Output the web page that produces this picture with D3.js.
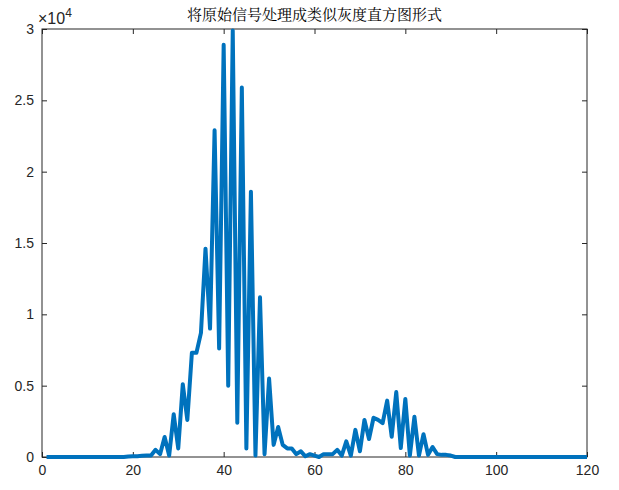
<!DOCTYPE html>
<html><head><meta charset="utf-8">
<script src="https://cdn.jsdelivr.net/npm/d3@7"></script>
<style>body{margin:0;background:#fff}</style></head>
<body><div id="chart"></div>
<script>
// histogram-like values, index 1..120
const values = [
  0,0,0,0,0,0,0,0,0,0, 0,0,0,0,0,0,0,0,30,50,
  60,80,100,100,500,200,1400,100,3000,600,
  5100,2600,7300,7300,8700,14600,9000,22900,7600,28900,
  5000,29900,2400,25900,600,18600,100,11200,200,5500,
  850,2100,850,600,600,200,400,50,200,100,
  0,200,200,200,500,100,1100,100,1900,400,
  2600,1260,2750,2600,2380,3950,1420,4550,630,4070,
  100,2820,100,1600,150,700,200,150,150,100,
  0,0,0,0,0,0,0,0,0,0, 0,0,0,0,0,0,0,0,0,0,
  0,0,0,0,0,0,0,0,0,0
];
const xTicks = [0,20,40,60,80,100,120];
const yTicks = [0,5000,10000,15000,20000,25000,30000];
const title = "将原始信号处理成类似灰度直方图形式";

const W = 619, H = 490, m = {l:42, r:32, t:29, b:33};
const svg = d3.select("#chart").append("svg").attr("width", W).attr("height", H)
  .style("font-family", "'Liberation Sans', Arial, sans-serif");
const x = d3.scaleLinear().domain([0,120]).range([m.l, W - m.r]);
const y = d3.scaleLinear().domain([0,30000]).range([H - m.b, m.t]);

svg.append("g").attr("transform", "translate(0," + (H - m.b) + ")")
  .call(d3.axisBottom(x).tickValues(xTicks).tickSize(-5).tickPadding(8))
  .call(g => g.select(".domain").remove());
svg.append("g").attr("transform", "translate(" + m.l + ",0)")
  .call(d3.axisLeft(y).tickValues(yTicks).tickSize(-5).tickPadding(8).tickFormat(d => d3.format("")(d / 10000)))
  .call(g => g.select(".domain").remove());
svg.append("g").attr("transform", "translate(0," + m.t + ")")
  .call(d3.axisTop(x).tickValues(xTicks).tickSize(-5).tickFormat(""))
  .call(g => g.select(".domain").remove());
svg.append("g").attr("transform", "translate(" + (W - m.r) + ",0)")
  .call(d3.axisRight(y).tickValues(yTicks).tickSize(-5).tickFormat(""))
  .call(g => g.select(".domain").remove());
svg.selectAll(".tick text").style("font-size", "14px").attr("fill", "#262626");
svg.selectAll(".tick line").attr("stroke", "#262626");

svg.append("rect").attr("x", m.l).attr("y", m.t)
  .attr("width", W - m.l - m.r).attr("height", H - m.t - m.b)
  .attr("fill", "none").attr("stroke", "#262626").attr("stroke-width", 1);

svg.append("path").datum(values)
  .attr("fill", "none").attr("stroke", "#0072BD").attr("stroke-width", 4)
  .attr("stroke-linejoin", "round")
  .attr("d", d3.line().x((d, i) => x(i + 1)).y(d => y(d)));

const ex = svg.append("text").attr("x", 38).attr("y", 24).attr("fill", "#262626").style("font-size", "16px");
ex.append("tspan").text("×10");
ex.append("tspan").attr("dy", -7).style("font-size", "12px").text("4");

svg.append("text").attr("x", (m.l + W - m.r) / 2).attr("y", 20).attr("text-anchor", "middle")
  .style("font-family", "'Noto Serif CJK SC','Noto Sans CJK SC',serif").style("font-size", "15px")
  .attr("fill", "#000").text(title);
</script></body></html>
